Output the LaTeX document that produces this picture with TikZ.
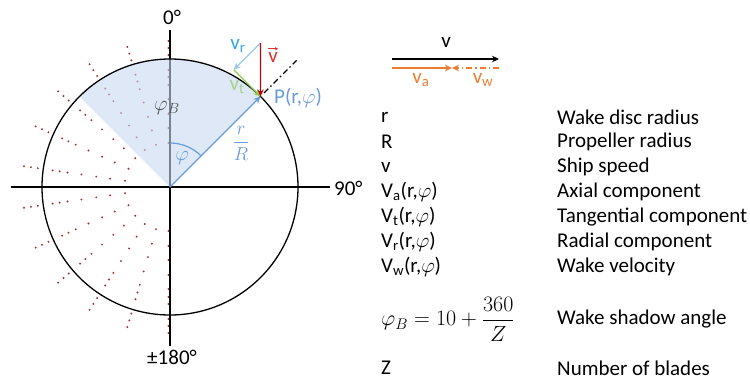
\RequirePackage{fix-cm}
\documentclass[tikz,border=0pt]{standalone}
\usepackage{fontspec}
\setmainfont{Carlito}
\usetikzlibrary{arrows.meta,calc}
\definecolor{dotred}{HTML}{A83232}
\definecolor{secblue}{HTML}{C9D9F0}
\definecolor{rblue}{HTML}{6A9BDA}
\definecolor{vrblue}{HTML}{9CCAE6}
\definecolor{vrlab}{HTML}{2EA7E0}
\definecolor{vtgreen}{HTML}{8CCB4E}
\definecolor{vtlab}{HTML}{A9D18E}
\definecolor{vred}{HTML}{C00000}
\definecolor{vlab}{HTML}{E03030}
\definecolor{worange}{HTML}{ED7D31}
\definecolor{phigray}{HTML}{555555}
\tikzset{
  axisline/.style={line width=1.3pt, black},
  tipstyle/.style={-{Stealth[length=7pt,width=6.5pt]}},
  lbl/.style={inner sep=0pt},
  legl/.style={inner sep=0pt, anchor=west},
}
\begin{document}
\begin{tikzpicture}[x=1pt,y=1pt,font=\fontsize{21}{24}\selectfont]
\useasboundingbox (0,0) rectangle (750,-380);
\coordinate (O) at (170,-187);
\coordinate (D) at (168.5,-187);
% dotted radial lines
\foreach \k in {0,...,11}{
  \pgfmathsetmacro\ang{90+\k*180/11}
  \foreach \r in {44,59,73,88,102,110,117,132,139,146}{
    \fill[dotred] ($(D)+(\ang:\r)$) circle (1.1);
  }
}
% axes
\coordinate (hL) at (11,-187);
\coordinate (hR) at (330,-187);
\coordinate (vT) at (170,-30);
\coordinate (vB) at (170,-346);
\draw[axisline] (hL) -- (hR);
\draw[axisline] (vT) -- (vB);
% sector
\fill[secblue, opacity=0.6] (O) -- ($(O)+(45:128)$) arc[start angle=45,end angle=135,radius=128] -- cycle;
% circle
\draw[line width=1.3pt] (O) circle (128);
% labels of axes
\node[lbl] (l0) at (172,-17) {0°};
\node[lbl, anchor=west] (l90) at (334,-188) {90°};
\node[lbl] (l180) at (172,-357) {±180°};
% point P
\coordinate (P) at ($(O)+(45:128)$);
\draw[rblue, line width=1.3pt, tipstyle] (O) -- (P);
\draw[rblue, line width=1.2pt] ($(O)+(90:44)$) arc[start angle=90,end angle=45,radius=44];
\node[lbl, rblue] (phi) at (182,-158) {$\varphi$};
\node[lbl, phigray] (phiB) at (167,-108) {$\varphi_B$};
\node[lbl, rblue] (rR) at (241,-143) {\fontsize{19}{22}\selectfont$\displaystyle\frac{r}{R}$};
% dash-dot line
\coordinate (E1) at ($(O)+(45:133)$);
\coordinate (E2) at ($(O)+(45:179)$);
\draw[line width=1.2pt, dash pattern=on 6pt off 3pt on 1.5pt off 3pt] (E1) -- (E2);
% velocity vectors
\coordinate (V0) at (260.5,-43);
\coordinate (Q) at ($(V0)+(-26.75,-26.75)$);
\draw[vrblue, line width=1.3pt, tipstyle] (V0) -- (Q);
\draw[vtgreen, line width=1.3pt, tipstyle] (Q) -- (P);
\draw[vred, line width=1.3pt, tipstyle] (V0) -- (P);
\node[lbl, vrlab] (lvr) at (238,-46) {v\textsubscript{r}};
\node[lbl, vtlab] (lvt) at (237,-87) {v\textsubscript{t}};
\node[lbl, vlab, anchor=base] (lv) at (273,-62) {v};
\draw[vlab, line width=0.9pt, -{Stealth[length=3pt,width=3.5pt]}] ([xshift=-5pt,yshift=3pt]lv.north) -- ([xshift=5pt,yshift=3pt]lv.north);
\node[lbl, rblue, anchor=west] (lP) at (274,-98) {P(r,$\varphi$)};
% top-right vectors
\coordinate (A1) at (392,-59);
\coordinate (A2) at (499,-59);
\draw[line width=1.3pt, tipstyle] (A1) -- (A2);
\node[lbl] (lvv) at (446,-42) {v};
\coordinate (B1) at (392,-68);
\coordinate (B2) at (452,-68);
\coordinate (B3) at (499,-68);
\draw[worange, line width=1.3pt, tipstyle] (B1) -- (B2);
\draw[worange, line width=1.3pt, dash pattern=on 6pt off 3pt on 1.5pt off 3pt, tipstyle] (B3) -- (B2);
\node[lbl, worange] (lva) at (421,-80) {v\textsubscript{a}};
\node[lbl, worange] (lvw) at (483,-80) {v\textsubscript{w}};
% legend
\node[legl] (s1) at (381,-117) {r};
\node[legl] (s2) at (381,-142) {R};
\node[legl] (s3) at (381,-167) {v};
\node[legl] (s4) at (381,-192) {V\textsubscript{a}(r,$\varphi$)};
\node[legl] (s5) at (381,-217) {V\textsubscript{t}(r,$\varphi$)};
\node[legl] (s6) at (381,-242) {V\textsubscript{r}(r,$\varphi$)};
\node[legl] (s7) at (381,-267) {V\textsubscript{w}(r,$\varphi$)};
\node[legl] (s8) at (381,-319) {\fontsize{22}{26}\selectfont$\displaystyle\varphi_B = 10 + \frac{360}{Z}$};
\node[legl] (s9) at (381,-368) {Z};
\node[legl] (d1) at (557,-117) {Wake disc radius};
\node[legl] (d2) at (557,-142) {Propeller radius};
\node[legl] (d3) at (557,-167) {Ship speed};
\node[legl] (d4) at (557,-192) {Axial component};
\node[legl] (d5) at (557,-217) {Tangential component};
\node[legl] (d6) at (557,-242) {Radial component};
\node[legl] (d7) at (557,-267) {Wake velocity};
\node[legl] (d8) at (557,-319) {Wake shadow angle};
\node[legl] (d9) at (557,-368) {Number of blades};
\end{tikzpicture}
\end{document}
